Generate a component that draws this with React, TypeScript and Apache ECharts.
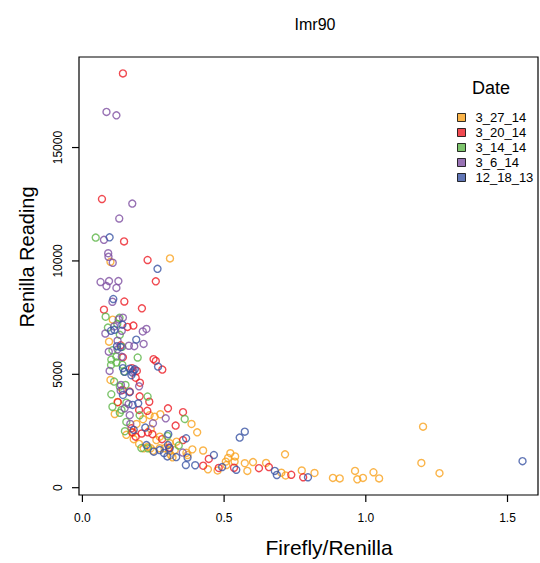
import React, { useEffect, useRef } from "react";
import * as echarts from "echarts";

const seriesNames = ["3_27_14", "3_20_14", "3_14_14", "3_6_14", "12_18_13"];
const seriesColors = ["#F9A11B", "#EC1C24", "#5DB547", "#7E4FA1", "#3A54A4"];

const d3_27_14: [number, number][] = [
  [0.099, 9960], [0.309, 10110], [0.107, 7410], [0.094, 6440], [0.099, 4750],
  [0.124, 3780], [0.114, 3250], [0.237, 3200], [0.255, 3130], [0.275, 3240],
  [0.191, 2810], [0.214, 3020], [0.385, 2810], [0.405, 2440], [0.155, 2330],
  [0.181, 2140], [0.273, 2250], [0.261, 2100], [0.332, 2030], [0.308, 1960],
  [0.2, 1930], [0.216, 1740], [0.231, 1810], [0.241, 1740], [0.249, 1630],
  [0.273, 1740], [0.29, 1740], [0.306, 1620], [0.326, 1660], [0.318, 1340],
  [0.367, 1540], [0.388, 1690], [0.426, 1640], [0.312, 1440], [0.371, 1440],
  [0.443, 810], [0.477, 760], [0.506, 1150], [0.514, 1310], [0.522, 1520],
  [0.539, 1380], [0.537, 1150], [0.573, 1080], [0.582, 740], [0.602, 1130],
  [0.648, 1090], [0.715, 1470], [0.702, 660], [0.717, 540], [0.774, 760],
  [0.819, 650], [0.884, 430], [0.908, 410], [0.962, 740], [0.97, 370],
  [0.99, 430], [1.027, 680], [1.047, 410], [1.202, 2690], [1.196, 1090],
  [1.26, 640], [0.179, 2440], [0.241, 2590], [0.508, 1000],
];

const d3_20_14: [number, number][] = [
  [0.143, 18270], [0.069, 12730], [0.147, 10860], [0.23, 10040], [0.259, 9100],
  [0.148, 8210], [0.21, 7910], [0.076, 7850], [0.18, 7150], [0.159, 7090],
  [0.135, 6280], [0.143, 5750], [0.251, 5670], [0.259, 5590], [0.282, 5210],
  [0.192, 5150], [0.175, 5270], [0.188, 4850], [0.203, 4630], [0.167, 4240],
  [0.202, 4030], [0.236, 3790], [0.125, 3770], [0.229, 3390], [0.2, 3430],
  [0.302, 3500], [0.355, 3330], [0.329, 2740], [0.173, 2620], [0.175, 2440],
  [0.188, 2250], [0.209, 2390], [0.231, 2440], [0.247, 2360], [0.281, 2140],
  [0.306, 1770], [0.355, 2100], [0.446, 1270], [0.426, 970], [0.481, 870],
  [0.535, 880], [0.623, 860], [0.658, 910], [0.737, 570], [0.779, 460],
  [0.142, 4310],
];

const d3_14_14: [number, number][] = [
  [0.047, 11030], [0.082, 7540], [0.131, 7490], [0.123, 7220], [0.09, 7060],
  [0.132, 6740], [0.14, 6210], [0.106, 6060], [0.12, 5780], [0.102, 5650],
  [0.195, 5740], [0.101, 5410], [0.12, 5520], [0.141, 5420], [0.147, 5120],
  [0.112, 4680], [0.132, 4460], [0.152, 4530], [0.102, 4120], [0.23, 4020],
  [0.106, 3570], [0.138, 3430], [0.132, 3300], [0.202, 3190], [0.361, 3030],
  [0.155, 2900], [0.15, 2490], [0.3, 2280], [0.34, 1860], [0.208, 1750],
  [0.231, 1740], [0.155, 3750],
];

const d3_6_14: [number, number][] = [
  [0.085, 16570], [0.12, 16420], [0.176, 12530], [0.13, 11870], [0.076, 10930],
  [0.091, 10340], [0.092, 10180], [0.107, 9920], [0.064, 9070], [0.094, 9110],
  [0.127, 9110], [0.085, 8890], [0.12, 8810], [0.106, 8200], [0.143, 7500],
  [0.112, 7110], [0.128, 7420], [0.226, 7000], [0.213, 6890], [0.081, 6800],
  [0.139, 6920], [0.124, 6480], [0.216, 6340], [0.183, 6240], [0.164, 6260],
  [0.124, 6100], [0.093, 6000], [0.139, 5770], [0.096, 5150], [0.18, 5150],
  [0.136, 4530], [0.2, 4470], [0.135, 4280], [0.163, 3690], [0.167, 3200],
  [0.294, 3060], [0.169, 2810], [0.249, 2840], [0.354, 1550], [0.149, 3500],
];

const d12_18_13: [number, number][] = [
  [0.096, 11040], [0.265, 9650], [0.109, 8320], [0.141, 7190], [0.101, 6920],
  [0.113, 6960], [0.19, 6530], [0.122, 6240], [0.135, 6200], [0.267, 5340],
  [0.143, 5270], [0.149, 5110], [0.167, 5250], [0.185, 5220], [0.177, 5080],
  [0.173, 4960], [0.143, 4090], [0.167, 4210], [0.177, 3650], [0.197, 3720],
  [0.222, 2650], [0.181, 2550], [0.226, 1880], [0.303, 2360], [0.366, 2180],
  [0.273, 1660], [0.308, 1740], [0.252, 1590], [0.288, 1530], [0.3, 1380],
  [0.331, 1350], [0.371, 1330], [0.464, 1440], [0.365, 1000], [0.398, 990],
  [0.493, 910], [0.543, 790], [0.555, 2210], [0.573, 2470], [0.679, 740],
  [0.686, 560], [0.796, 460], [1.553, 1170], [0.302, 1880],
];

const seriesData = [d3_27_14, d3_20_14, d3_14_14, d3_6_14, d12_18_13];
const xTicks = [0, 0.5, 1, 1.5];
const yTicks = [0, 5000, 10000, 15000];

const X_MIN = -0.012;
const X_MAX = 1.6076;
const Y_MIN = -322;
const Y_MAX = 18993;
const TICK_LEN = 7;

const FONT = "'Liberation Sans', Arial, Helvetica, sans-serif";

export default function App() {
  const ref = useRef<HTMLDivElement>(null);
  useEffect(() => {
    if (!ref.current) return;
    const chart = echarts.init(ref.current, null, { renderer: "svg" });
    chart.setOption({
      animation: false,
      backgroundColor: "#fff",
      textStyle: { fontFamily: FONT },
      title: {
        text: "Imr90",
        left: 310,
        top: 11,
        textAlign: "center",
        textStyle: { fontFamily: FONT, fontSize: 16, fontWeight: "normal", color: "#000" },
      },
      grid: {
        left: 79,
        top: 57,
        right: 2,
        bottom: 68,
        show: true,
        borderColor: "#000",
        borderWidth: 1.2,
        backgroundColor: "transparent",
      },
      xAxis: {
        type: "value",
        min: X_MIN,
        max: X_MAX,
        name: "Firefly/Renilla",
        nameLocation: "middle",
        nameGap: 42,
        nameTextStyle: { fontFamily: FONT, fontSize: 21, color: "#000", padding: [0, 0, 0, 41] },
        splitLine: { show: false },
        axisLine: { show: false },
        axisTick: { show: false },
        axisLabel: {
          customValues: xTicks,
          margin: 17,
          fontFamily: FONT,
          fontSize: 12,
          color: "#000",
          formatter: (v: number) => v.toFixed(1),
        },
      },
      yAxis: {
        type: "value",
        min: Y_MIN,
        max: Y_MAX,
        name: "Renilla Reading",
        nameLocation: "middle",
        nameGap: 42,
        nameRotate: 90,
        nameTextStyle: { fontFamily: FONT, fontSize: 20, color: "#000", padding: [0, 0, 0, 38] },
        splitLine: { show: false },
        axisLine: { show: false },
        axisTick: { show: false },
        axisLabel: {
          customValues: yTicks,
          rotate: 90,
          margin: 15,
          fontFamily: FONT,
          fontSize: 12,
          color: "#000",
          formatter: (v: number) => String(v),
        },
      },
      legend: {
        orient: "vertical",
        left: 452,
        top: 106,
        itemWidth: 8,
        itemHeight: 8,
        itemGap: 2,
        selectedMode: false,
        textStyle: { fontFamily: FONT, fontSize: 13, color: "#000", lineHeight: 13, padding: [0, 0, 0, 5] },
        data: seriesNames.map((n, i) => ({
          name: n,
          icon: "rect",
          itemStyle: { color: seriesColors[i], borderColor: "#000", borderWidth: 1 },
        })),
      },
      graphic: [
        {
          id: "dateTitle",
          type: "text",
          left: 472,
          top: 79,
          style: { text: "Date", font: `18px ${FONT}`, fill: "#000" },
        },
      ],
      series: seriesNames.map((n, i) => ({
        name: n,
        type: "scatter",
        symbol: "circle",
        symbolSize: 7,
        data: seriesData[i],
        itemStyle: { color: "rgba(0,0,0,0)", borderColor: seriesColors[i], borderWidth: 1.4 },
        emphasis: { disabled: true },
      })),
    });

    const tickEls: any[] = [];
    xTicks.forEach((v, i) => {
      const p = chart.convertToPixel({ gridIndex: 0 }, [v, Y_MIN]) as number[];
      tickEls.push({
        id: "xt" + i,
        type: "rect",
        silent: true,
        z: 10,
        shape: { x: p[0] - 0.6, y: p[1], width: 1.2, height: TICK_LEN },
        style: { fill: "#000" },
      });
    });
    yTicks.forEach((v, i) => {
      const p = chart.convertToPixel({ gridIndex: 0 }, [X_MIN, v]) as number[];
      tickEls.push({
        id: "yt" + i,
        type: "rect",
        silent: true,
        z: 10,
        shape: { x: p[0] - TICK_LEN, y: p[1] - 0.6, width: TICK_LEN, height: 1.2 },
        style: { fill: "#000" },
      });
    });
    chart.setOption({ graphic: tickEls });

    return () => chart.dispose();
  }, []);
  return (
    <div
      ref={ref}
      style={{ position: "fixed", left: 0, top: 0, width: 540, height: 563 }}
    />
  );
}
